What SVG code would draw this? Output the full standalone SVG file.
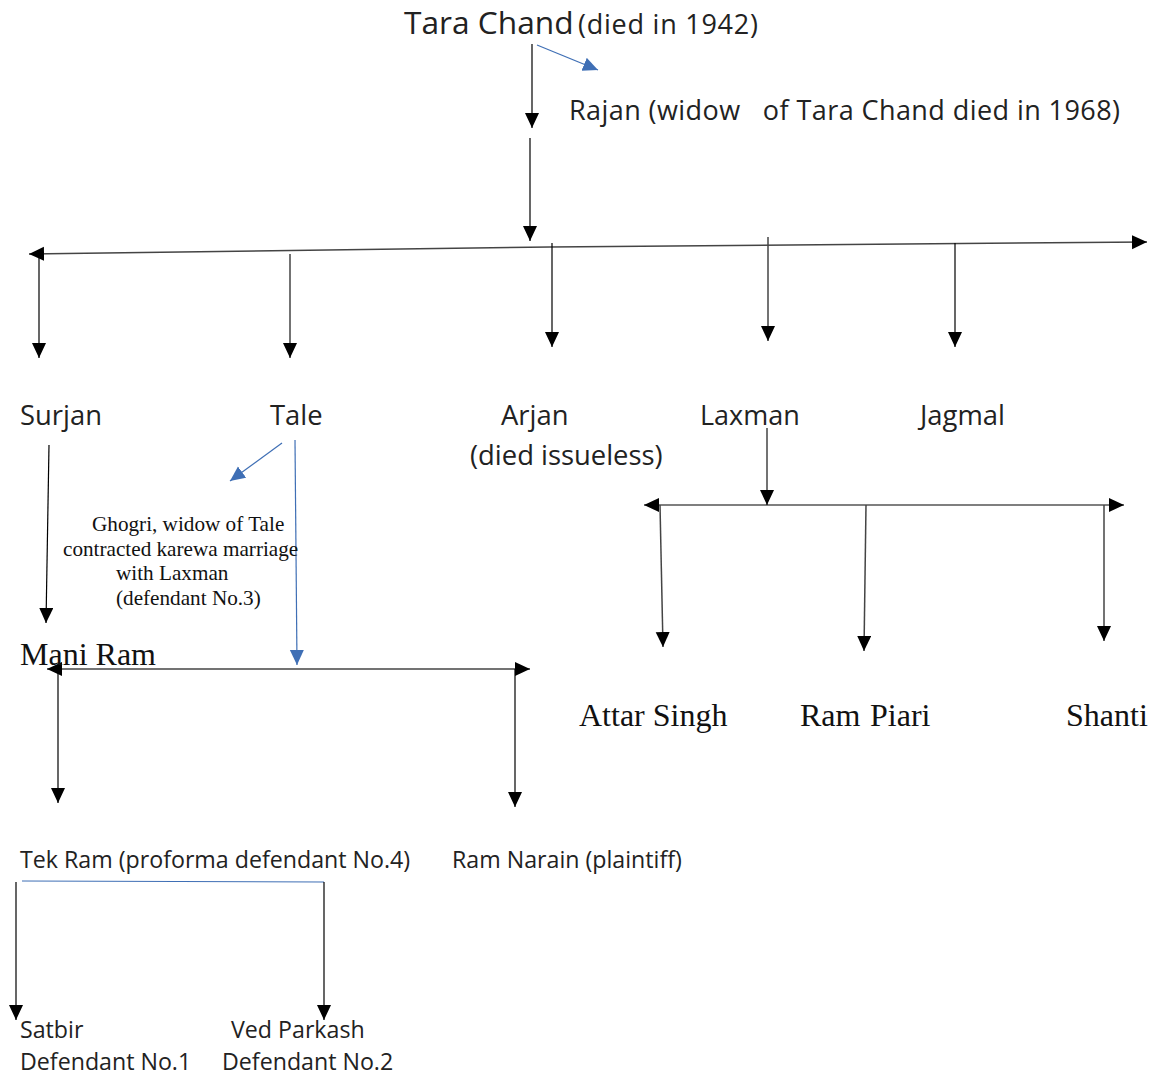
<svg xmlns="http://www.w3.org/2000/svg" width="1158" height="1075" viewBox="0 0 1158 1075">
<defs>
<marker id="ab" markerUnits="userSpaceOnUse" markerWidth="16" markerHeight="15" refX="15" refY="7" orient="auto"><path d="M0,0 L15,7 L0,14 z" fill="#000"/></marker>
<marker id="abl" markerUnits="userSpaceOnUse" markerWidth="16" markerHeight="15" refX="15" refY="7" orient="auto"><path d="M0,0 L15,7 L0,14 z" fill="#3f6fb5"/></marker>
<style>
.s{font-family:"Open Sans","Noto Sans",sans-serif;fill:#222}
.r{font-family:"Liberation Serif",serif;fill:#111}
.k{stroke:#000;stroke-width:1.2;fill:none}
.g{stroke:#444;stroke-width:1.5;fill:none}
.b{stroke:#3f6fb5;stroke-width:1.2;fill:none}
</style>
</defs>
<rect width="1158" height="1075" fill="#fff"/>
<g id="connectors">
<line class="k" x1="532" y1="44" x2="532" y2="128" marker-end="url(#ab)"/>
<line class="b" x1="537" y1="45" x2="598" y2="70" marker-end="url(#abl)"/>
<line class="k" x1="530" y1="138" x2="530" y2="241" marker-end="url(#ab)"/>
<line class="g" x1="550" y1="247" x2="29" y2="254" marker-end="url(#ab)"/>
<line class="g" x1="550" y1="247" x2="1147" y2="242" marker-end="url(#ab)"/>
<line class="k" x1="39" y1="254" x2="39" y2="358" marker-end="url(#ab)"/>
<line class="g" x1="290" y1="254" x2="290" y2="358" marker-end="url(#ab)"/>
<line class="k" x1="552" y1="243" x2="552" y2="347" marker-end="url(#ab)"/>
<line class="g" x1="768" y1="237" x2="768" y2="341" marker-end="url(#ab)"/>
<line class="k" x1="955" y1="243" x2="955" y2="347" marker-end="url(#ab)"/>
<line class="k" x1="49" y1="445" x2="46" y2="623" marker-end="url(#ab)"/>
<line class="b" x1="282" y1="443" x2="230" y2="481" marker-end="url(#abl)"/>
<line class="b" x1="295" y1="440" x2="297" y2="665" marker-end="url(#abl)"/>
<line class="g" x1="300" y1="669" x2="47" y2="669" marker-end="url(#ab)"/>
<line class="g" x1="300" y1="669" x2="530" y2="669" marker-end="url(#ab)"/>
<line class="k" x1="58" y1="669" x2="58" y2="803" marker-end="url(#ab)"/>
<line class="k" x1="515" y1="669" x2="515" y2="807" marker-end="url(#ab)"/>
<line class="g" x1="767" y1="428" x2="767" y2="505" marker-end="url(#ab)"/>
<line class="k" x1="800" y1="505" x2="644" y2="505" marker-end="url(#ab)"/>
<line class="k" x1="800" y1="505" x2="1124" y2="505" marker-end="url(#ab)"/>
<line class="g" x1="660" y1="505" x2="663" y2="647" marker-end="url(#ab)"/>
<line class="g" x1="866" y1="505" x2="864" y2="651" marker-end="url(#ab)"/>
<line class="g" x1="1104" y1="505" x2="1104" y2="641" marker-end="url(#ab)"/>
<line class="b" x1="22" y1="881" x2="324" y2="882"/>
<line class="k" x1="16" y1="882" x2="16" y2="1020" marker-end="url(#ab)"/>
<line class="k" x1="324" y1="882" x2="324" y2="1020" marker-end="url(#ab)"/>
</g>
<g id="tara"><text class="s" x="404" y="34" font-size="31.7">Tara Chand</text><text class="s" x="578" y="34" font-size="27" textLength="180">(died in 1942)</text></g>
<g id="rajan"><text class="s" x="569" y="120" font-size="27" textLength="551" xml:space="preserve">Rajan (widow   of Tara Chand died in 1968)</text></g>
<g id="surjan"><text class="s" x="20" y="425" font-size="27.4">Surjan</text></g>
<g id="tale"><text class="s" x="270" y="425" font-size="27.4">Tale</text></g>
<g id="arjan"><text class="s" x="501" y="425" font-size="27.4">Arjan</text><text class="s" x="470" y="465" font-size="27.4">(died issueless)</text></g>
<g id="laxman"><text class="s" x="700" y="425" font-size="27">Laxman</text></g>
<g id="jagmal"><text class="s" x="920" y="425" font-size="27.4">Jagmal</text></g>
<g id="ghogri">
<text class="r" x="92" y="531" font-size="21.2">Ghogri, widow of Tale</text>
<text class="r" x="63" y="556" font-size="21.2">contracted karewa marriage</text>
<text class="r" x="116" y="580" font-size="21.2">with Laxman</text>
<text class="r" x="116" y="605" font-size="21.2">(defendant No.3)</text>
</g>
<g id="maniram"><text class="r" x="20" y="665" font-size="32">Mani Ram</text></g>
<g id="attar"><text class="r" x="579" y="726" font-size="32">Attar Singh</text></g>
<g id="rampiari"><text class="r" x="800" y="726" font-size="32">Ram <tspan x="870">Piari</tspan></text></g>
<g id="shanti"><text class="r" x="1066" y="726" font-size="32">Shanti</text></g>
<g id="tekram"><text class="s" x="20" y="868" font-size="23.2">Tek Ram (proforma defendant No.4)</text></g>
<g id="ramnarain"><text class="s" x="452" y="868" font-size="23.2">Ram Narain (plaintiff)</text></g>
<g id="satbir"><text class="s" x="20" y="1038" font-size="23.2">Satbir</text><text class="s" x="20" y="1070" font-size="23.2">Defendant No.1</text></g>
<g id="vedparkash"><text class="s" x="231" y="1038" font-size="23.2">Ved Parkash</text><text class="s" x="222" y="1070" font-size="23.2">Defendant No.2</text></g>
</svg>
